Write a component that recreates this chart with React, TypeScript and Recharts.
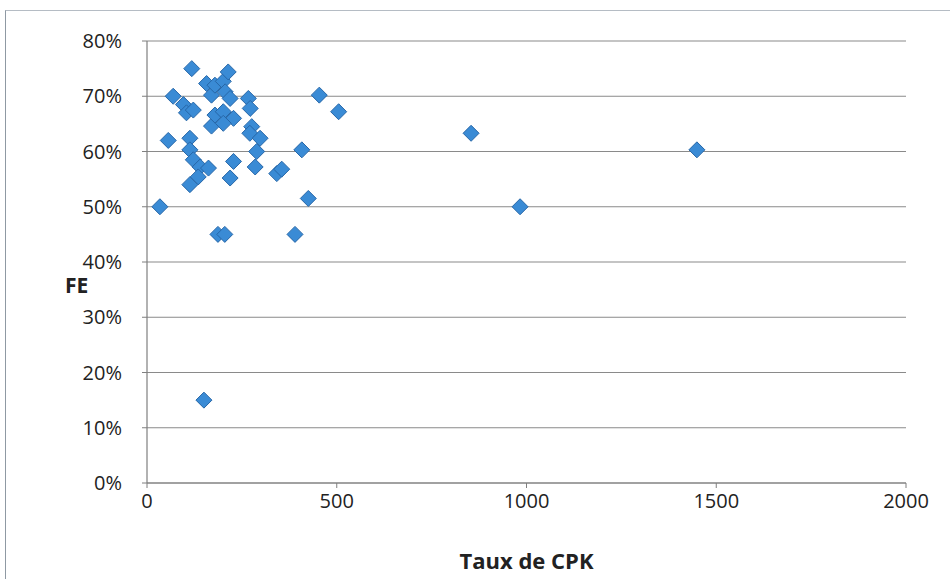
import React from "react";
import { ScatterChart, Scatter, XAxis, YAxis, CartesianGrid, Label } from "recharts";

const cpkValues = [34, 56, 69, 96, 104, 122, 118, 113, 113, 122, 140, 162, 135, 113, 150, 157, 170, 170, 179, 179, 201, 206, 214, 219, 201, 228, 201, 187, 205, 228, 219, 267, 272, 276, 271, 298, 289, 285, 342, 355, 390, 408, 425, 454, 505, 854, 983, 1449];
const feValues = [50, 62, 70, 68.5, 67, 67.5, 75, 62.4, 60.3, 58.5, 57.2, 57, 55.4, 54, 15, 72.3, 70.2, 64.6, 72, 66.6, 72.7, 70.8, 74.4, 69.6, 67.2, 66, 65.1, 45, 45, 58.2, 55.2, 69.6, 67.8, 64.5, 63.3, 62.4, 60, 57.2, 56, 56.8, 45, 60.3, 51.5, 70.2, 67.2, 63.3, 50, 60.3];
const xTicks = [0, 500, 1000, 1500, 2000];
const yTicks = [0, 10, 20, 30, 40, 50, 60, 70, 80];

const data = cpkValues.map((x, i) => ({ x, y: feValues[i] }));

const Diamond = (props: any) => {
  const { cx, cy } = props;
  const r = 8;
  return (
    <polygon
      points={`${cx},${cy - r} ${cx + r},${cy} ${cx},${cy + r} ${cx - r},${cy}`}
      fill="#3a8bd5"
      stroke="#2767a8"
      strokeWidth={1}
    />
  );
};

const font = "'Open Sans', sans-serif";

export default function App() {
  return (
    <div style={{ position: "absolute", left: 0, top: 0, width: 950, height: 579, background: "#fff", overflow: "hidden" }}>
      <div style={{ position: "absolute", left: 5, top: 10, width: 960, height: 600, borderTop: "1px solid #b5bcc4", borderLeft: "1px solid #8f99a3" }} />
      <div style={{ position: "absolute", left: 0, top: 0 }}>
        <ScatterChart width={950} height={579} margin={{ top: 41, right: 44, left: 60, bottom: 6 }}>
          <CartesianGrid horizontal={true} vertical={false} stroke="#8a8a8a" strokeWidth={1.2} />
          <XAxis
            type="number"
            dataKey="x"
            domain={[0, 2000]}
            ticks={xTicks}
            height={90}
            axisLine={{ stroke: "#7f7f7f", strokeWidth: 1.2 }}
            tickLine={{ stroke: "#7f7f7f" }}
            tickSize={5}
            tickMargin={6}
            tick={{ fill: "#222", fontSize: 20, fontFamily: font }}
          >
            <Label value="Taux de CPK" position="insideBottom" offset={4} style={{ fill: "#222", fontSize: 22, fontWeight: 700, fontFamily: font }} />
          </XAxis>
          <YAxis
            type="number"
            dataKey="y"
            domain={[0, 80]}
            ticks={yTicks}
            width={87}
            tickFormatter={(v: number) => `${v}%`}
            axisLine={{ stroke: "#7f7f7f", strokeWidth: 1.2 }}
            tickLine={{ stroke: "#7f7f7f" }}
            tickSize={5}
            tickMargin={20}
            tick={{ fill: "#222", fontSize: 20, fontFamily: font }}
          >
            <Label value="FE" position="insideLeft" offset={5} dy={24} style={{ fill: "#222", fontSize: 21, fontWeight: 700, fontFamily: font }} />
          </YAxis>
          <Scatter data={data} shape={<Diamond />} isAnimationActive={false} />
        </ScatterChart>
      </div>
    </div>
  );
}
